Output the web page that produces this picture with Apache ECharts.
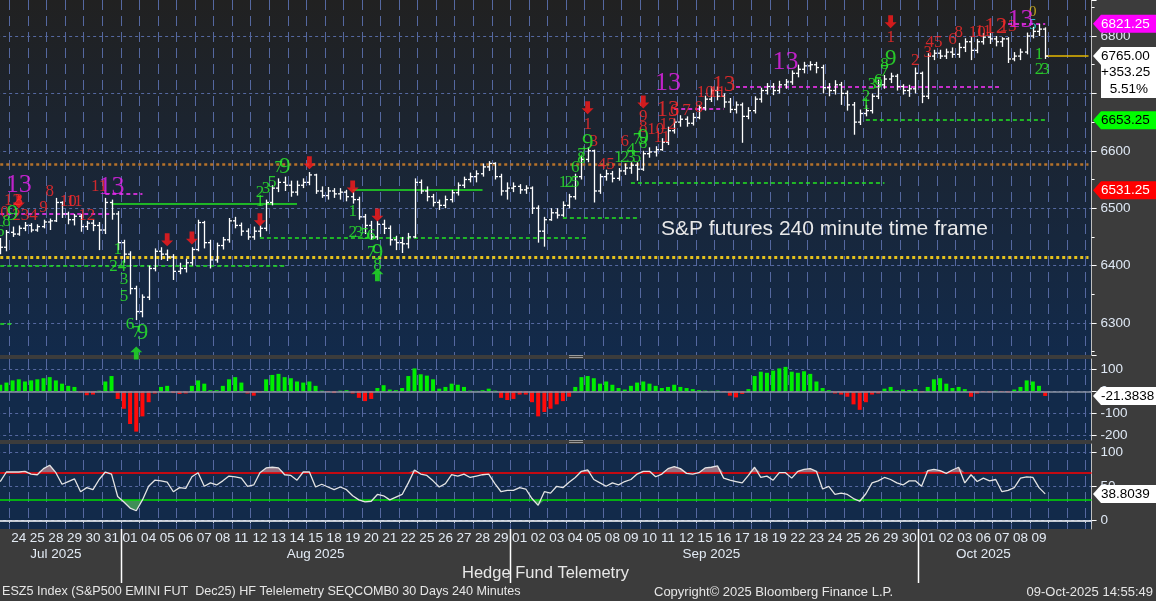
<!DOCTYPE html>
<html>
<head>
<meta charset="utf-8">
<script src="https://cdn.jsdelivr.net/npm/echarts@6.0.0/dist/echarts.min.js"></script>
<style>
html,body{margin:0;padding:0;background:#3c3c3c;overflow:hidden;}
#chart{width:1156px;height:601px;}
</style>
</head>
<body>
<div id="chart"></div>
<script>
// ---------------- DATA ----------------
const dayLabels = ['24','25','28','29','30','31',
  '01','04','05','06','07','08','11','12','13','14','15','18','19','20','21','22','25','26','27','28','29',
  '01','02','03','04','05','08','09','10','11','12','15','16','17','18','19','22','23','24','25','26','29','30',
  '01','02','03','06','07','08','09'];
const monthLabels = ['Jul 2025','Aug 2025','Sep 2025','Oct 2025'];

// 240-minute bars [open, close, low, high]; first two bars are the tail of Jul 23
const priceBars = [
 [6440,6432,6420,6448],[6432,6458,6425,6462],
 [6458,6455,6450,6468],[6455,6465,6452,6470],[6465,6470,6460,6476],
 [6470,6462,6458,6474],[6462,6468,6459,6472],[6468,6476,6465,6480],
 [6476,6478,6462,6482],[6478,6510,6476,6518],[6510,6490,6483,6512],
 [6490,6480,6472,6494],[6480,6486,6470,6490],[6486,6468,6459,6490],
 [6468,6474,6462,6478],[6474,6470,6460,6480],[6470,6462,6427,6476],
 [6462,6510,6455,6518],[6510,6490,6480,6515],[6490,6440,6427,6495],
 [6440,6420,6405,6445],[6420,6360,6350,6425],[6360,6320,6305,6365],
 [6320,6345,6310,6350],[6345,6395,6340,6400],[6395,6425,6390,6430],
 [6425,6420,6410,6432],[6420,6415,6408,6428],[6415,6390,6375,6420],
 [6390,6395,6385,6405],[6395,6405,6388,6412],[6405,6428,6400,6432],
 [6428,6475,6425,6480],[6475,6440,6430,6478],[6440,6410,6395,6445],
 [6410,6435,6405,6440],[6435,6445,6428,6450],[6445,6478,6440,6483],
 [6478,6470,6465,6485],[6470,6460,6452,6475],[6460,6450,6445,6465],
 [6450,6460,6445,6468],[6460,6465,6450,6470],[6465,6510,6460,6515],
 [6510,6535,6505,6540],[6535,6545,6528,6552],[6545,6540,6530,6555],
 [6540,6528,6520,6548],[6528,6540,6522,6548],[6540,6545,6535,6552],
 [6545,6558,6540,6563],[6558,6530,6525,6560],[6530,6522,6518,6538],
 [6522,6530,6515,6537],[6530,6525,6518,6535],[6525,6528,6515,6535],
 [6528,6520,6512,6532],[6520,6515,6508,6528],[6515,6485,6480,6520],
 [6485,6470,6455,6490],[6470,6450,6445,6478],[6450,6472,6445,6478],
 [6472,6465,6455,6480],[6465,6445,6435,6470],[6445,6440,6427,6452],
 [6440,6438,6422,6450],[6438,6450,6430,6457],[6450,6545,6448,6552],
 [6545,6530,6525,6550],[6530,6520,6512,6538],[6520,6510,6503,6525],
 [6510,6505,6497,6515],[6505,6515,6500,6522],[6515,6527,6510,6532],
 [6527,6540,6522,6545],[6540,6550,6535,6555],[6550,6555,6545,6562],
 [6555,6560,6545,6566],[6560,6572,6555,6578],[6572,6578,6565,6582],
 [6578,6555,6550,6580],[6555,6530,6522,6560],[6530,6535,6515,6545],
 [6535,6538,6528,6545],[6538,6532,6525,6542],[6532,6535,6525,6540],
 [6535,6500,6490,6538],[6500,6460,6440,6505],[6460,6480,6433,6485],
 [6480,6492,6478,6500],[6492,6488,6482,6500],[6488,6505,6485,6512],
 [6505,6520,6500,6525],[6520,6555,6515,6560],[6555,6585,6550,6592],
 [6585,6600,6580,6606],[6600,6530,6510,6602],[6530,6555,6525,6560],
 [6555,6560,6548,6567],[6560,6552,6545,6565],[6552,6565,6548,6570],
 [6565,6570,6558,6578],[6570,6575,6560,6580],[6575,6568,6548,6580],
 [6568,6595,6565,6600],[6595,6598,6588,6606],[6598,6602,6590,6608],
 [6602,6615,6600,6622],[6615,6635,6610,6642],[6635,6650,6630,6656],
 [6650,6655,6642,6662],[6655,6648,6642,6660],[6648,6658,6644,6666],
 [6658,6675,6655,6680],[6675,6690,6670,6696],[6690,6705,6685,6712],
 [6705,6695,6688,6712],[6695,6685,6675,6700],[6685,6672,6666,6692],
 [6672,6680,6665,6686],[6680,6660,6614,6684],[6660,6670,6655,6676],
 [6670,6690,6665,6695],[6690,6705,6684,6710],[6705,6712,6698,6718],
 [6712,6705,6697,6718],[6705,6715,6700,6722],[6715,6720,6708,6725],
 [6720,6735,6715,6740],[6735,6742,6728,6750],[6742,6748,6735,6755],
 [6748,6750,6740,6756],[6750,6745,6735,6755],[6745,6710,6700,6750],
 [6710,6705,6695,6718],[6705,6715,6698,6723],[6715,6700,6680,6720],
 [6700,6680,6670,6705],[6680,6650,6628,6685],[6650,6665,6645,6672],
 [6665,6670,6660,6680],[6670,6695,6665,6700],[6695,6715,6690,6724],
 [6715,6725,6708,6732],[6725,6730,6718,6736],[6730,6712,6705,6734],
 [6712,6705,6698,6716],[6705,6708,6694,6715],[6708,6735,6700,6745],
 [6735,6695,6683,6738],[6695,6765,6690,6770],[6765,6770,6758,6776],
 [6770,6765,6760,6776],[6765,6772,6760,6778],[6772,6768,6762,6780],
 [6768,6780,6762,6788],[6780,6790,6772,6796],[6790,6775,6758,6798],
 [6775,6790,6770,6795],[6790,6798,6785,6805],[6798,6795,6786,6805],
 [6795,6790,6782,6800],[6790,6795,6781,6798],[6795,6760,6753,6798],
 [6760,6765,6756,6772],[6765,6772,6758,6778],[6772,6800,6768,6806],
 [6800,6808,6796,6816],[6808,6812,6800,6821],[6812,6765,6760,6815]
];

const histogram = [
 30,40,50,55,45,50,55,60,65,50,
 35,25,20,-5,-18,-15,3,45,70,-35,
 -80,-150,-185,-115,-50,-10,20,25,-8,-12,
 -10,25,50,35,5,5,25,55,65,40,
 -10,-20,-5,55,75,80,65,60,45,40,
 45,25,3,-3,-8,3,5,-10,-30,-45,
 -35,15,28,8,5,15,70,105,78,72,
 55,12,20,35,30,20,3,2,5,12,
 3,-30,-40,-35,-15,-15,-50,-115,-95,-80,
 -60,-45,-25,20,65,70,60,35,45,30,
 15,8,25,40,45,35,25,15,20,30,
 20,15,10,5,3,2,3,-3,-20,-28,
 -12,10,70,90,85,95,105,112,90,85,
 92,80,45,15,5,-10,-15,-25,-60,-85,
 -50,-15,-10,12,20,5,8,6,10,-5,
 20,55,60,35,15,20,10,-25,-10,-3,
 -5,2,-3,-5,8,20,50,45,25,-21.3838
];

const oscillator = [
 57,71,71,71,72,68,67,76,81,70,
 53,57,61,42,48,45,60,71,68,35,
 27,18,14,30,50,59,58,56,42,48,
 47,64,70,50,55,52,58,65,64,62,
 50,52,70,77,78,77,67,66,59,71,
 71,49,53,49,45,49,45,36,30,27,
 28,38,36,30,34,38,55,74,68,66,
 58,49,54,67,65,68,63,65,67,68,
 54,42,44,44,48,46,32,22,42,40,
 50,48,56,63,72,74,60,55,50,55,
 52,57,60,68,72,72,64,68,76,79,
 76,69,68,70,77,78,80,62,59,57,
 55,66,78,63,65,59,70,70,62,72,
 75,76,72,46,50,38,40,38,32,28,
 39,55,58,63,60,55,52,58,58,50,
 73,75,73,69,74,78,55,67,57,62,
 58,60,42,44,48,62,64,63,48,38.8039
];
const oscUpper = 70, oscLower = 30;

// reference levels [startBar, endBar, price]
const goldDottedLevels   = [[0,176,6414]];
const orangeDottedLevels = [[0,176,6577]];
const greenSolidLevels   = [[18,48,6508],[57,78,6532]];
const greenDashedLevels  = [[0,46,6400],[0,2,6299],[42,95,6448],[91,103,6483],[102,143,6544],[140,169,6653.25]];
const magentaDashedLevels= [[0,18,6490],[17,23,6525],[109,117,6673],[119,162,6711],[163,169,6821.25]];
const lastPriceLevels    = [[169,176,6765]];

// sequential count labels [bar, price, text]
const redCounts = [
 [0,6492,'10'],[2,6514,'12'],[3,6514,'3'],[4,6488,'234'],[7,6502,'9'],[8,6529,'8'],
 [11,6511,'10'],[12,6511,'11'],[14,6488,'12'],[16,6537,'11'],
 [95,6645,'1'],[96,6616,'3'],[98,6576,'45'],[101,6616,'6'],[104,6640,'8'],[104,6659,'9'],
 [106,6637,'10'],[107,6623,'11'],[108,6645,'12'],[109,6671,'6'],[111,6671,'7'],[113,6675,'8'],
 [114,6701,'10'],[116,6701,'11'],
 [144,6797,'1'],[148,6758,'2'],[150,6772,'3'],[151,6788,'45'],[154,6793,'6'],[155,6806,'8'],
 [158,6806,'10'],[159,6807,'11'],[163,6816,'13']
];
const bigRedCounts = [[108,6671,'13'],[117,6715,'13'],[161,6816,'12']];
const magentaCounts = [[3,6541,'13'],[18,6537,'13'],[108,6718,'13'],[127,6755,'13'],[165,6828,'13']];
const greenCounts = [
 [0,6459,'6'],[1,6476,'8'],[19,6428,'1'],[19,6398,'24'],[20,6376,'3'],[20,6346,'5'],[21,6297,'6'],[22,6283,'7'],
 [42,6511,'1'],[42,6527,'2'],[43,6534,'3'],[44,6544,'5'],[45,6570,'7'],
 [57,6494,'1'],[57,6457,'2'],[58,6457,'3'],[59,6455,'5'],[60,6452,'6'],[60,6422,'7'],[61,6400,'8'],
 [91,6544,'1'],[92,6544,'2'],[93,6544,'5'],[93,6570,'6'],[94,6593,'7'],[94,6587,'8'],
 [100,6588,'1'],[101,6588,'2'],[102,6588,'3'],[102,6602,'4'],[103,6588,'5'],[103,6619,'7'],[104,6612,'8'],
 [140,6680,'1'],[140,6694,'2'],[141,6715,'3'],[142,6718,'5'],[142,6722,'6'],[143,6738,'7'],[143,6750,'8'],
 [168,6767,'1'],[168,6741,'2'],[169,6741,'3']
];
const bigGreenCounts = [[2,6490,'9'],[23,6283,'9'],[46,6572,'9'],[61,6422,'9'],[95,6614,'9'],[104,6622,'9'],[144,6760,'9']];
const yellowCounts = [[167,6842,'0']];
const cyanCounts = [[167,6819,'5']];
const redArrows = [[3,6511],[27,6445],[31,6448],[42,6480],[50,6579],[57,6537],[61,6488],[95,6675],[104,6685],[144,6825]];
const greenArrows = [[22,6248],[61,6384]];

// right-hand value flags
const priceFlags = [6821.25, 6653.25, 6531.25];
const lastPrice = 6765.00, netChange = 353.25, pctChange = 5.51;
const histLast = -21.3838, oscLast = 38.8039;

// ---------------- LAYOUT / BUILD ----------------
const LEAD = 2, PER_DAY = 3, TRAIL = 7;
const nSlots = LEAD + dayLabels.length * PER_DAY + TRAIL;
const cats = Array.from({length: nSlots}, (_, i) => String(i));
const isDayStart = i => i >= LEAD && i < nSlots && (i - LEAD) % PER_DAY === 0;
const isDayMid = i => i >= LEAD && (i - LEAD) % PER_DAY === 1 && (i - LEAD - 1) / PER_DAY < dayLabels.length;

const dayMonth = []; { let m = 0; dayLabels.forEach((d, k) => { if (k > 0 && +d < +dayLabels[k-1]) m++; dayMonth.push(m); }); }
const monthStartSlots = [];
const monthMidSlots = {};
monthLabels.forEach((name, mi) => {
  const ks = dayLabels.map((_, k) => k).filter(k => dayMonth[k] === mi);
  const first = mi === 0 ? 0 : LEAD + ks[0] * PER_DAY;
  const last = LEAD + ks[ks.length-1] * PER_DAY + PER_DAY - 1;
  if (mi > 0) monthStartSlots.push(first);
  monthMidSlots[Math.floor((first + last) / 2)] = name;
});

const SLOT_W = 18.55 / PER_DAY;
const GL = 9.5 - LEAD * SLOT_W;
const GW = nSlots * SLOT_W;
const gridColor = '#5568a0';
const FONT = '"Liberation Sans", Arial, sans-serif';
const SERIF = '"Liberation Serif", "DejaVu Serif", serif';

function xAxisFor(gi, extra) {
  return Object.assign({
    type: 'category', gridIndex: gi, data: cats, boundaryGap: true, position: 'bottom',
    axisLine: {show: false}, axisTick: {show: false}, axisLabel: {show: false},
    splitLine: {show: true, interval: (i) => isDayStart(i), lineStyle: {color: gridColor, type: [10, 6], width: 1}}
  }, extra || {});
}
function yAxisFor(gi, min, max, split, step, minor) {
  return {
    type: 'value', gridIndex: gi, position: 'right', min, max, splitNumber: split,
    axisLine: {show: true, lineStyle: {color: '#c0c0c0', width: 1}},
    axisTick: {show: true, length: 5, lineStyle: {color: '#ffffff'}},
    minorTick: {show: !!minor, splitNumber: 2, length: 3, lineStyle: {color: '#ffffff'}},
    axisLabel: {color: '#dfe8f4', fontSize: 13.5, fontFamily: FONT, margin: 9, showMinLabel: false, showMaxLabel: false,
      formatter: v => (Math.abs(v % step) < 1e-6 ? String(v) : '')},
    splitLine: {show: true, showMinLine: false, showMaxLine: false, lineStyle: {color: gridColor, type: [3, 3], width: 1}}
  };
}
function levelSeries(levels, color, width, type, z) {
  return {type: 'lines', coordinateSystem: 'cartesian2d', xAxisIndex: 0, yAxisIndex: 0, silent: true, z: z || 3,
    lineStyle: {color, width, type, opacity: 1},
    data: levels.map(l => ({coords: [[l[0], l[2]], [l[1], l[2]]]}))};
}
function textSeries(arr, color, size, z) {
  return {type: 'scatter', xAxisIndex: 0, yAxisIndex: 0, data: arr, symbol: 'circle', symbolSize: 1, silent: true, z: z || 6,
    itemStyle: {color: 'rgba(0,0,0,0)'},
    label: {show: true, position: 'inside', formatter: p => p.data[2], color, fontSize: size, fontFamily: SERIF}};
}

const chart = echarts.init(document.getElementById('chart'), null, {renderer: 'canvas', devicePixelRatio: 1});

const gridBase = {left: GL, width: GW, show: true, borderWidth: 0, containLabel: false, outerBoundsMode: 'none'};
const option = {
  animation: false,
  backgroundColor: '#3c3c3c',
  textStyle: {fontFamily: FONT},
  grid: [
    Object.assign({}, gridBase, {top: 0, height: 355,
      backgroundColor: {type: 'linear', x: 0, y: 0, x2: 0, y2: 1, colorStops: [{offset: 0, color: '#212121'}, {offset: 1, color: '#122a4b'}]}}),
    Object.assign({}, gridBase, {top: 359, height: 81, backgroundColor: '#122a4a'}),
    Object.assign({}, gridBase, {top: 444, height: 85, backgroundColor: '#122a4a'})
  ],
  xAxis: [
    xAxisFor(0),
    xAxisFor(1),
    xAxisFor(2, {
      axisLine: {show: true, lineStyle: {color: '#ffffff', width: 1.5}},
      axisTick: {show: true, interval: (i) => isDayStart(i), length: 3, lineStyle: {color: '#c8d0e0'}},
      axisLabel: {show: true, interval: (i) => isDayMid(i), color: '#e2eaf4', fontSize: 13.5, fontFamily: FONT, margin: 2,
        formatter: (v, i) => { const k = (i - LEAD - 1) / PER_DAY; return dayLabels[k] || ''; }}
    }),
    xAxisFor(2, {
      splitLine: {show: false},
      axisTick: {show: false},
      axisLabel: {show: true, interval: (i) => monthMidSlots[i] !== undefined, color: '#e2eaf4', fontSize: 13.5, fontFamily: FONT, margin: 18,
        formatter: (v, i) => monthMidSlots[i] || ''}
    })
  ],
  yAxis: [
    yAxisFor(0, 6244.3, 6862.7, 6, 100, true),
    yAxisFor(1, -223.4, 148.2, 4, 100, false),
    yAxisFor(2, -12.8, 112.2, 2, 50, false)
  ],
  series: [
    levelSeries(goldDottedLevels, '#e6c21c', 3, [3, 3], 2),
    levelSeries(orangeDottedLevels, '#b5722a', 2.5, [3, 3], 2),
    levelSeries(greenSolidLevels, '#22e622', 1.5, 'solid', 3),
    levelSeries(greenDashedLevels, '#22e622', 1.5, [4, 3], 3),
    levelSeries(magentaDashedLevels, '#ff33ff', 1.5, [4, 3], 3),
    levelSeries(lastPriceLevels, '#e6b800', 1.5, 'solid', 3),
    {
      type: 'custom', xAxisIndex: 0, yAxisIndex: 0, z: 4, silent: true,
      data: priceBars.map((b, i) => [i, b[0], b[1], b[2], b[3]]),
      encode: {x: 0, y: [1, 2, 3, 4]},
      renderItem: (params, api) => {
        const i = api.value(0);
        const o = api.coord([i, api.value(1)]);
        const c = api.coord([i, api.value(2)]);
        const l = api.coord([i, api.value(3)]);
        const h = api.coord([i, api.value(4)]);
        const x = Math.round(o[0]) + 0.5, t = 2.5;
        const st = {stroke: '#ffffff', lineWidth: 1.3};
        return {type: 'group', children: [
          {type: 'line', shape: {x1: x, y1: h[1], x2: x, y2: l[1]}, style: st},
          {type: 'line', shape: {x1: x - t, y1: o[1], x2: x, y2: o[1]}, style: st},
          {type: 'line', shape: {x1: x, y1: c[1], x2: x + t, y2: c[1]}, style: st}
        ]};
      }
    },
    textSeries(redCounts, '#ff2a2a', 17),
    textSeries(bigRedCounts, '#ff2a2a', 23),
    textSeries(greenCounts, '#2bf02b', 17),
    textSeries(bigGreenCounts, '#2bf02b', 23),
    textSeries(magentaCounts, '#e822f0', 26, 7),
    textSeries(yellowCounts, '#e6c21c', 15),
    textSeries(cyanCounts, '#30e8e8', 15),
    {type: 'scatter', xAxisIndex: 0, yAxisIndex: 0, data: redArrows, silent: true, z: 6,
      symbol: 'path://M3,0L7,0L7,6L10,6L5,11L0,6L3,6Z', symbolSize: [12, 13], itemStyle: {color: '#ff1a1a'}},
    {type: 'scatter', xAxisIndex: 0, yAxisIndex: 0, data: greenArrows, silent: true, z: 6,
      symbol: 'path://M5,0L10,5L7,5L7,11L3,11L3,5L0,5Z', symbolSize: [12, 13], itemStyle: {color: '#22e622'}},
    {
      type: 'bar', xAxisIndex: 1, yAxisIndex: 1, data: histogram, barWidth: 4, silent: true,
      itemStyle: {color: p => (p.value >= 0 ? '#00ee00' : '#ff0a0a')},
      markLine: {silent: true, symbol: 'none', label: {show: false}, lineStyle: {color: '#8c94a4', type: 'solid', width: 1.5}, data: [{yAxis: 0}]}
    },
    {type: 'line', xAxisIndex: 2, yAxisIndex: 2, stack: 'ob', data: oscillator.map(() => oscUpper), symbol: 'none', silent: true, lineStyle: {opacity: 0}},
    {type: 'line', xAxisIndex: 2, yAxisIndex: 2, stack: 'ob', data: oscillator.map(v => Math.max(v - oscUpper, 0)), symbol: 'none', silent: true,
      lineStyle: {opacity: 0}, areaStyle: {color: '#8e7080', opacity: 1}},
    {type: 'line', xAxisIndex: 2, yAxisIndex: 2, stack: 'os', data: oscillator.map(v => Math.min(v, oscLower)), symbol: 'none', silent: true, lineStyle: {opacity: 0}},
    {type: 'line', xAxisIndex: 2, yAxisIndex: 2, stack: 'os', data: oscillator.map(v => oscLower - Math.min(v, oscLower)), symbol: 'none', silent: true,
      lineStyle: {opacity: 0}, areaStyle: {color: '#3f8e57', opacity: 1}},
    {
      type: 'line', xAxisIndex: 2, yAxisIndex: 2, data: oscillator, symbol: 'none', silent: true, z: 5,
      lineStyle: {color: '#e4e4e4', width: 1.3},
      markLine: {silent: true, symbol: 'none', label: {show: false},
        data: [{yAxis: oscUpper, lineStyle: {color: '#ff0000', width: 1.6, type: 'solid'}},
               {yAxis: oscLower, lineStyle: {color: '#00dd00', width: 1.6, type: 'solid'}}]}
    }
  ]
};
chart.setOption(option);

// ---------------- graphic overlays (flags, separators, texts) ----------------
const px = (axis, v) => chart.convertToPixel({yAxisIndex: axis}, v);
const F = (s) => s + 'px ' + FONT;
function flag(y, text, bg, fg) {
  return [
    {type: 'polygon', z: 100, shape: {points: [[1093, y], [1101, y - 9], [1156, y - 9], [1156, y + 9], [1101, y + 9]]}, style: {fill: bg}},
    {type: 'text', z: 101, x: 1101, y: y, style: {text, fill: fg, font: F(13.5), align: 'left', verticalAlign: 'middle', textAlign: 'left', textVerticalAlign: 'middle'}}
  ];
}
const g = [];
const flagStyles = [['#ff00ff', '#ffffff'], ['#00ff00', '#000000'], ['#ff0000', '#ffffff']];
priceFlags.forEach((v, k) => g.push(...flag(px(0, v), v.toFixed(2), flagStyles[k][0], flagStyles[k][1])));
{
  const y = px(0, lastPrice);
  g.push({type: 'polygon', z: 100, shape: {points: [[1093, y], [1101, y - 9], [1156, y - 9], [1156, y + 42], [1101, y + 42], [1101, y + 9]]}, style: {fill: '#ffffff'}});
  const ts = (text, x, yy, al) => ({type: 'text', z: 101, x, y: yy, style: {text, fill: '#000000', font: F(13.5), align: al, verticalAlign: 'middle', textAlign: al, textVerticalAlign: 'middle'}});
  g.push(ts(lastPrice.toFixed(2), 1101, y, 'left'));
  g.push(ts('+' + netChange.toFixed(2), 1101, y + 16.5, 'left'));
  g.push(ts(pctChange.toFixed(2) + '%', 1148, y + 33, 'right'));
}
g.push(...flag(px(1, histLast), histLast.toFixed(4), '#ffffff', '#000000'));
g.push(...flag(px(2, oscLast), oscLast.toFixed(4), '#ffffff', '#000000'));

// month separators below the date axis
monthStartSlots.forEach(s => {
  const x = Math.round(chart.convertToPixel({xAxisIndex: 2}, s) - SLOT_W / 2) + 0.5;
  g.push({type: 'line', z: 61, shape: {x1: x, y1: 529, x2: x, y2: 583}, style: {stroke: '#ffffff', lineWidth: 1.5}});
});

// panel separator grips
[355.5, 357.5, 440.5, 442.5].forEach(y => g.push({type: 'line', z: 50, shape: {x1: 569, y1: y, x2: 583, y2: y}, style: {stroke: '#9a9a9a', lineWidth: 1}}));

const txt = (text, x, y, size, color, al) => ({type: 'text', z: 60, x, y, style: {text, fill: color, font: F(size), align: al || 'left', verticalAlign: 'middle', textAlign: al || 'left', textVerticalAlign: 'middle'}});
g.push(txt('S&P futures 240 minute time frame', 661, 229, 21, '#e8e8e8'));
g.push(txt('Hedge Fund Telemetry', 462, 573, 16.5, '#e8e8e8'));
g.push(txt('ESZ5 Index (S&P500 EMINI FUT  Dec25) HF Telelemetry SEQCOMB0 30 Days 240 Minutes', 2, 592, 12.6, '#e6e6e6'));
g.push(txt('Copyright\u00A9 2025 Bloomberg Finance L.P.', 654, 592, 13, '#e6e6e6'));
g.push(txt('09-Oct-2025 14:55:49', 1153, 592, 13, '#e6e6e6', 'right'));

chart.setOption({graphic: {elements: g}});
</script>
</body>
</html>
